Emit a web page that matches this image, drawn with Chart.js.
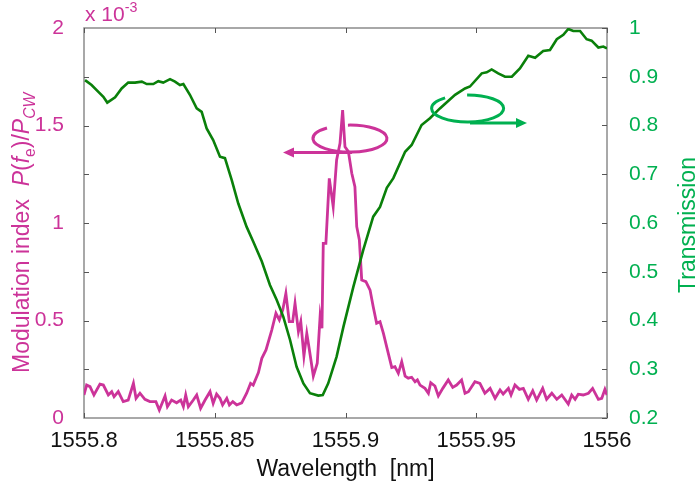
<!DOCTYPE html>
<html><head><meta charset="utf-8">
<script src="https://cdn.jsdelivr.net/npm/chart.js@4.4.0/dist/chart.umd.min.js"></script>
<style>html,body{margin:0;padding:0;background:#fff}#wrap{width:698px;height:494px;position:relative}</style>
</head><body><div id="wrap"><canvas id="c"></canvas></div>
<script>
// ---------- data ----------
const modWavelength = [1555.8000,1555.8010,1555.8023,1555.8038,1555.8061,1555.8074,1555.8093,1555.8106,1555.8115,1555.8131,1555.8150,1555.8169,1555.8189,1555.8199,1555.8214,1555.8233,1555.8252,1555.8275,1555.8288,1555.8310,1555.8319,1555.8335,1555.8354,1555.8370,1555.8380,1555.8389,1555.8399,1555.8418,1555.8431,1555.8446,1555.8463,1555.8482,1555.8494,1555.8507,1555.8520,1555.8530,1555.8546,1555.8556,1555.8569,1555.8584,1555.8603,1555.8622,1555.8637,1555.8647,1555.8667,1555.8680,1555.8696,1555.8718,1555.8734,1555.8747,1555.8760,1555.8772,1555.8785,1555.8798,1555.8807,1555.8820,1555.8829,1555.8841,1555.8852,1555.8862,1555.8877,1555.8892,1555.8903,1555.8910,1555.8915,1555.8925,1555.8938,1555.8953,1555.8966,1555.8979,1555.8989,1555.8998,1555.9011,1555.9024,1555.9036,1555.9043,1555.9053,1555.9062,1555.9078,1555.9094,1555.9106,1555.9119,1555.9132,1555.9145,1555.9158,1555.9177,1555.9189,1555.9202,1555.9215,1555.9228,1555.9240,1555.9253,1555.9266,1555.9275,1555.9285,1555.9304,1555.9317,1555.9326,1555.9342,1555.9355,1555.9372,1555.9393,1555.9410,1555.9425,1555.9444,1555.9457,1555.9470,1555.9495,1555.9514,1555.9533,1555.9553,1555.9572,1555.9591,1555.9603,1555.9623,1555.9633,1555.9648,1555.9665,1555.9680,1555.9699,1555.9716,1555.9731,1555.9754,1555.9769,1555.9789,1555.9808,1555.9827,1555.9852,1555.9865,1555.9878,1555.9890,1555.9909,1555.9929,1555.9945,1555.9967,1555.9980,1555.9992,1556.0000];
const modulationIndex = [0.118,0.169,0.161,0.118,0.174,0.169,0.118,0.135,0.109,0.135,0.084,0.092,0.178,0.101,0.127,0.096,0.084,0.084,0.041,0.113,0.058,0.092,0.078,0.092,0.058,0.118,0.058,0.092,0.118,0.050,0.092,0.135,0.075,0.123,0.101,0.067,0.101,0.067,0.084,0.067,0.078,0.127,0.178,0.169,0.233,0.306,0.349,0.451,0.537,0.503,0.554,0.639,0.494,0.494,0.588,0.443,0.494,0.318,0.434,0.349,0.215,0.281,0.523,0.460,0.896,0.896,1.229,1.084,1.323,1.409,1.579,1.391,1.366,1.255,1.186,0.981,0.913,0.708,0.699,0.656,0.571,0.486,0.494,0.434,0.362,0.259,0.263,0.229,0.289,0.215,0.204,0.209,0.186,0.195,0.169,0.152,0.127,0.181,0.164,0.113,0.152,0.195,0.157,0.169,0.195,0.127,0.135,0.186,0.178,0.127,0.152,0.101,0.144,0.123,0.152,0.118,0.169,0.147,0.152,0.096,0.140,0.092,0.152,0.096,0.127,0.096,0.118,0.072,0.118,0.096,0.122,0.118,0.127,0.152,0.096,0.101,0.147,0.118];

const transWavelength = [1555.8004,1555.8029,1555.8055,1555.8074,1555.8089,1555.8119,1555.8144,1555.8169,1555.8195,1555.8221,1555.8240,1555.8265,1555.8284,1555.8303,1555.8329,1555.8348,1555.8367,1555.8380,1555.8405,1555.8431,1555.8450,1555.8469,1555.8494,1555.8520,1555.8539,1555.8565,1555.8590,1555.8622,1555.8647,1555.8680,1555.8711,1555.8737,1555.8762,1555.8788,1555.8813,1555.8839,1555.8864,1555.8896,1555.8913,1555.8934,1555.8966,1555.8992,1555.9030,1555.9068,1555.9106,1555.9132,1555.9158,1555.9183,1555.9228,1555.9253,1555.9291,1555.9323,1555.9361,1555.9419,1555.9457,1555.9476,1555.9521,1555.9540,1555.9559,1555.9584,1555.9610,1555.9636,1555.9667,1555.9699,1555.9725,1555.9756,1555.9782,1555.9808,1555.9833,1555.9852,1555.9871,1555.9897,1555.9922,1555.9941,1555.9967,1555.9986,1556.0000];
const transmission = [0.893,0.883,0.869,0.859,0.847,0.858,0.876,0.888,0.888,0.890,0.885,0.885,0.891,0.888,0.895,0.890,0.883,0.885,0.863,0.835,0.828,0.794,0.770,0.736,0.733,0.688,0.640,0.592,0.562,0.521,0.473,0.442,0.408,0.360,0.305,0.271,0.251,0.246,0.247,0.271,0.326,0.387,0.469,0.545,0.613,0.633,0.672,0.692,0.746,0.760,0.801,0.815,0.835,0.863,0.876,0.880,0.907,0.909,0.915,0.907,0.900,0.900,0.917,0.943,0.939,0.953,0.955,0.977,0.986,0.998,0.994,0.994,0.977,0.974,0.960,0.962,0.958];

const xTickValues = [1555.8, 1555.85, 1555.9, 1555.95, 1556];
const xTickLabels = ['1555.8', '1555.85', '1555.9', '1555.95', '1556'];
const leftTickValues = [0, 0.5, 1, 1.5, 2];
const leftTickLabels = ['0', '0.5', '1', '1.5', '2'];
const leftTickMarks = [0.25, 0.5, 0.75, 1, 1.25, 1.5, 1.75];
const rightTickValues = [0.2, 0.3, 0.4, 0.5, 0.6, 0.7, 0.8, 0.9, 1];
const rightTickLabels = ['0.2', '0.3', '0.4', '0.5', '0.6', '0.7', '0.8', '0.9', '1'];

// ---------- style ----------
const MAGENTA = '#cc3399';
const GREEN_TXT = '#00b050';
const GREEN_LINE = '#0a800a';
const FONT = "'Liberation Sans', Arial, sans-serif";

const framePlugin = {
  id: 'frame',
  beforeDatasetsDraw(chart) {
    const {ctx, chartArea: a, scales} = chart;
    const x = scales.x, y = scales.y, y2 = scales.y2;
    ctx.save();
    ctx.strokeStyle = '#8c8c8c';
    ctx.lineWidth = 1.5;
    ctx.strokeRect(a.left, a.top, a.right - a.left, a.bottom - a.top);
    ctx.strokeStyle = '#555';
    ctx.lineWidth = 1;
    const L = 5;
    ctx.beginPath();
    xTickValues.forEach(v => {
      const p = Math.round(x.getPixelForValue(v)) + 0.5;
      ctx.moveTo(p, a.bottom); ctx.lineTo(p, a.bottom - L);
      ctx.moveTo(p, a.top); ctx.lineTo(p, a.top + L);
    });
    leftTickMarks.forEach(v => {
      const p = Math.round(y.getPixelForValue(v)) + 0.5;
      ctx.moveTo(a.left, p); ctx.lineTo(a.left + L, p);
    });
    rightTickValues.forEach(v => {
      const p = Math.round(y2.getPixelForValue(v)) + 0.5;
      ctx.moveTo(a.right, p); ctx.lineTo(a.right - L, p);
    });
    ctx.stroke();
    ctx.restore();
  }
};

function arrowHead(ctx, x, y, dir, color) {
  ctx.fillStyle = color;
  ctx.beginPath();
  ctx.moveTo(x, y);
  ctx.lineTo(x - dir * 11, y - 5);
  ctx.lineTo(x - dir * 11, y + 5);
  ctx.closePath();
  ctx.fill();
}

// annotation positions in data units
const magAnno = {cx: 1555.9017, cy: 1.433, rx: 0.01415, ry: 0.069, gapFrom: -2.24, gapTo: -1.625, arrowY: 1.362, arrowFrom: 1555.9025, arrowTo: 1555.8761};
const grnAnno = {cx: 1555.9467, cy: 0.835, rx: 0.01377, ry: 0.0277, gapFrom: -2.246, gapTo: -1.585, arrowY: 0.805, arrowFrom: 1555.9476, arrowTo: 1555.9694};

const annoPlugin = {
  id: 'anno',
  afterDatasetsDraw(chart) {
    const {ctx, scales} = chart;
    const x = scales.x;
    const draw = (an, ys, color, dir) => {
      const cx = x.getPixelForValue(an.cx), cy = ys.getPixelForValue(an.cy);
      const rx = x.getPixelForValue(an.cx + an.rx) - cx;
      const ry = cy - ys.getPixelForValue(an.cy + an.ry);
      ctx.save();
      ctx.strokeStyle = color; ctx.lineWidth = 3;
      ctx.beginPath();
      ctx.ellipse(cx, cy, rx, ry, 0, an.gapTo, an.gapFrom + 2 * Math.PI);
      ctx.stroke();
      const ay = ys.getPixelForValue(an.arrowY);
      const x0 = x.getPixelForValue(an.arrowFrom), x1 = x.getPixelForValue(an.arrowTo);
      ctx.beginPath();
      ctx.moveTo(x0, ay); ctx.lineTo(x1 - dir * 8, ay);
      ctx.stroke();
      arrowHead(ctx, x1, ay, dir, color);
      ctx.restore();
    };
    draw(magAnno, scales.y, MAGENTA, -1);
    draw(grnAnno, scales.y2, GREEN_TXT, 1);
  }
};

function drawParts(ctx, parts, size) {
  let cx = 0;
  parts.forEach(p => {
    const fs = p.sub || p.sup ? size * 0.68 : size;
    ctx.font = (p.italic ? 'italic ' : '') + fs + 'px ' + FONT;
    const dy = p.sub ? size * 0.28 : (p.sup ? -size * 0.42 : 0);
    ctx.fillText(p.t, cx, dy);
    cx += ctx.measureText(p.t).width;
  });
}

const textPlugin = {
  id: 'texts',
  afterDraw(chart) {
    const ctx = chart.ctx;
    ctx.save();
    ctx.textBaseline = 'alphabetic';
    ctx.textAlign = 'left';
    // left title
    ctx.fillStyle = MAGENTA;
    ctx.save();
    ctx.translate(29, 373);
    ctx.rotate(-Math.PI / 2);
    drawParts(ctx, [
      {t: 'Modulation index  '},
      {t: 'P', italic: true}, {t: '('}, {t: 'f', italic: true}, {t: 'e', sub: true},
      {t: ')/'}, {t: 'P', italic: true}, {t: 'CW', italic: true, sub: true}
    ], 23);
    ctx.restore();
    // multiplier
    ctx.save();
    ctx.translate(85, 21);
    drawParts(ctx, [{t: 'x 10'}, {t: '-3', sup: true}], 21);
    ctx.restore();
    // right title
    ctx.fillStyle = GREEN_TXT;
    ctx.save();
    ctx.translate(695, 225);
    ctx.rotate(-Math.PI / 2);
    ctx.textAlign = 'center';
    ctx.font = '23px ' + FONT;
    ctx.fillText('Transmission', 0, 0);
    ctx.restore();
    ctx.restore();
  }
};

new Chart(document.getElementById('c'), {
  type: 'line',
  data: {
    datasets: [
      {label: 'Transmission', data: transWavelength.map((w, i) => ({x: w, y: transmission[i]})),
       yAxisID: 'y2', borderColor: GREEN_LINE, borderWidth: 2.6, pointRadius: 0, tension: 0, fill: false},
      {label: 'Modulation index', data: modWavelength.map((w, i) => ({x: w, y: modulationIndex[i]})),
       yAxisID: 'y', borderColor: MAGENTA, borderWidth: 2.8, pointRadius: 0, tension: 0, fill: false}
    ]
  },
  options: {
    responsive: true, maintainAspectRatio: false, animation: false,
    layout: {padding: {top: 28, left: 0, right: 0, bottom: 0}},
    plugins: {legend: {display: false}, tooltip: {enabled: false}},
    scales: {
      x: {
        type: 'linear', position: 'bottom', min: 1555.8, max: 1556,
        afterBuildTicks: s => { s.ticks = xTickValues.map(v => ({value: v})); },
        afterFit: s => { s.height = 76; },
        grid: {display: false}, border: {display: false},
        ticks: {padding: 2, color: '#111', font: {family: FONT, size: 22},
          callback: (v, i) => xTickLabels[i], maxRotation: 0, autoSkip: false},
        title: {display: true, text: 'Wavelength  [nm]', color: '#111', font: {family: FONT, size: 23}, padding: {top: 0, bottom: 11}}
      },
      y: {
        type: 'linear', position: 'left', min: 0, max: 2,
        afterBuildTicks: s => { s.ticks = leftTickValues.map(v => ({value: v})); },
        afterFit: s => { s.width = 84; },
        grid: {display: false}, border: {display: false},
        ticks: {padding: 12, color: MAGENTA, font: {family: FONT, size: 21},
          callback: (v, i) => leftTickLabels[i]}
      },
      y2: {
        type: 'linear', position: 'right', min: 0.2, max: 1,
        afterBuildTicks: s => { s.ticks = rightTickValues.map(v => ({value: v})); },
        afterFit: s => { s.width = 91; },
        grid: {display: false}, border: {display: false},
        ticks: {padding: 14, color: GREEN_TXT, font: {family: FONT, size: 21},
          callback: (v, i) => rightTickLabels[i]}
      }
    }
  },
  plugins: [framePlugin, annoPlugin, textPlugin]
});
</script>
</body></html>
